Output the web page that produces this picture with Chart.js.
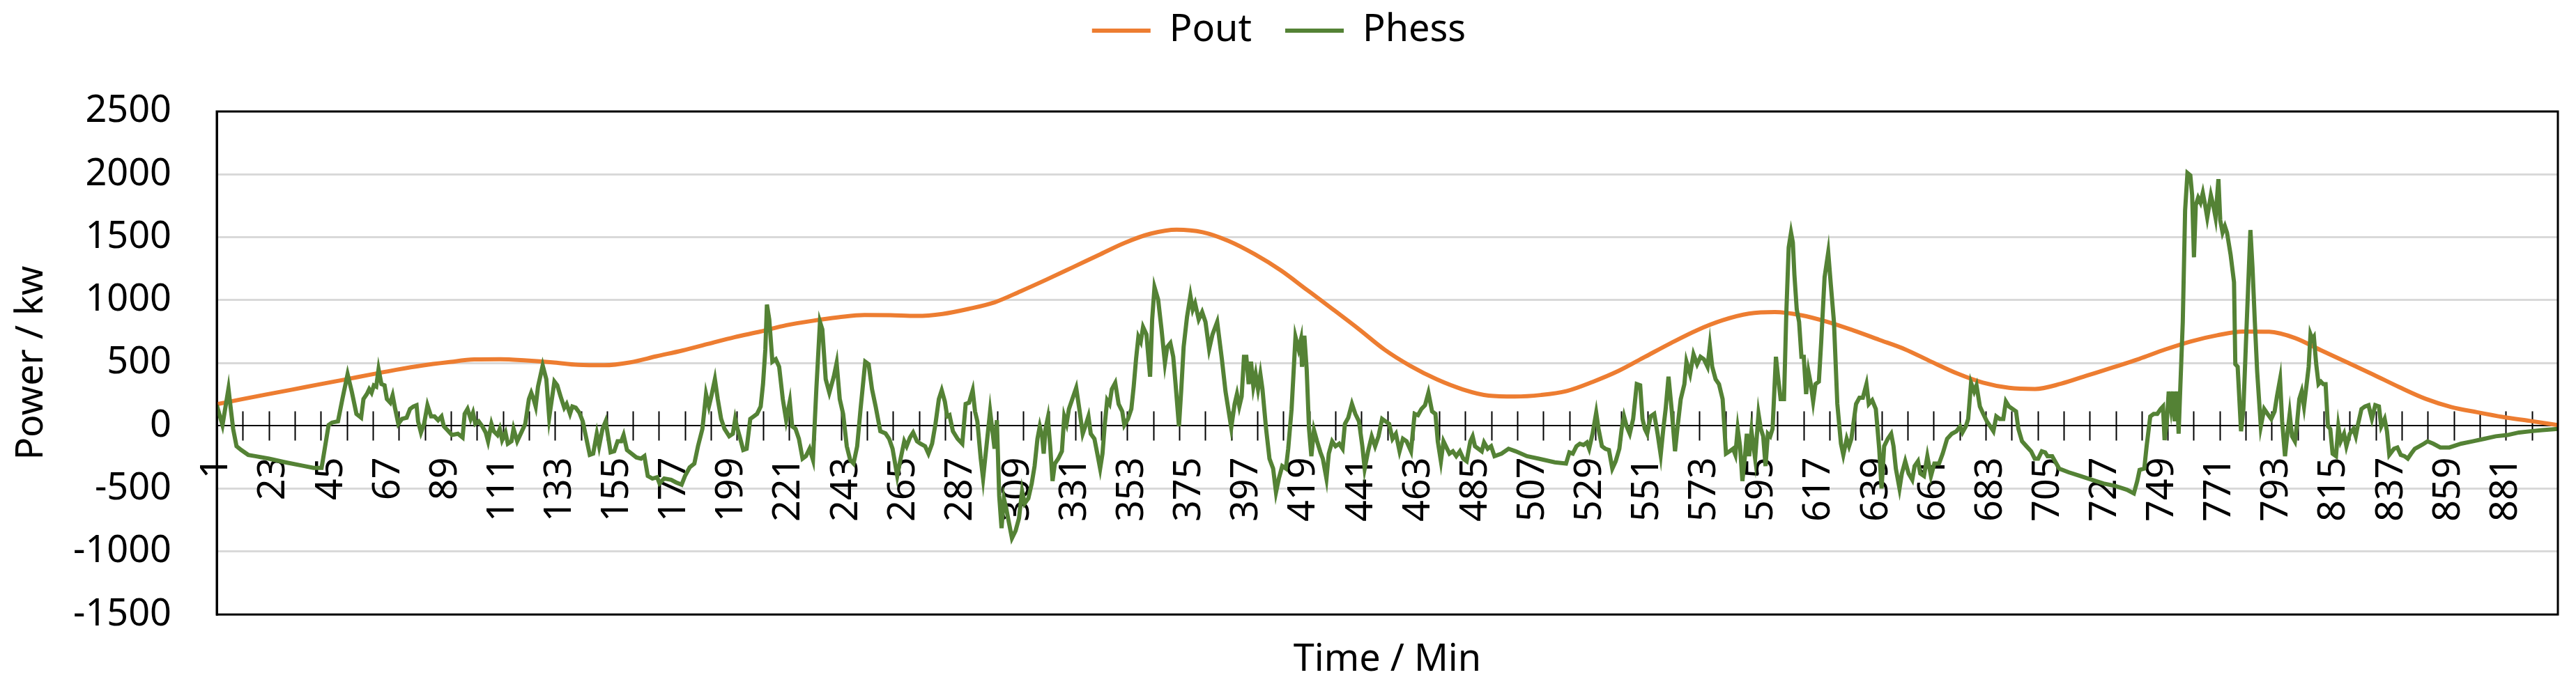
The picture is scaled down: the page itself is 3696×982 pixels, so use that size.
<!DOCTYPE html>
<html>
<head>
<meta charset="utf-8">
<script src="https://cdn.jsdelivr.net/npm/chart.js"></script>
<style>
  html, body { margin: 0; padding: 0; background: #fff; }
  canvas { display: block; }
</style>
</head>
<body>
<canvas id="grafico" width="3696" height="982"></canvas>
<script>
// etiquetas del eje de tiempo (cada 22 min)
const timeLabels = [1, 23, 45, 67, 89, 111, 133, 155, 177, 199, 221, 243, 265, 287, 309, 331, 353, 375, 397, 419,
  441, 463, 485, 507, 529, 551, 573, 595, 617, 639, 661, 683, 705, 727, 749, 771, 793, 815, 837, 859, 881];

// Pout (kw), leido cada 10 min
const poutT = [1, 10, 20, 30, 40, 50, 60, 70, 80, 90,
  100, 110, 120, 130, 140, 150, 160, 170, 180, 190,
  200, 210, 220, 230, 240, 250, 260, 270, 280, 290,
  300, 310, 320, 330, 340, 350, 360, 370, 380, 390,
  400, 410, 420, 430, 440, 450, 460, 470, 480, 490,
  500, 510, 520, 530, 540, 550, 560, 570, 580, 590,
  600, 610, 620, 630, 640, 650, 660, 670, 680, 690,
  700, 710, 720, 730, 740, 750, 760, 770, 780, 790,
  800, 810, 820, 830, 840, 850, 860, 870, 880, 890,
  901];
const poutP = [172, 209, 249, 288, 328, 367, 407, 446, 480, 506,
  528, 530, 520, 505, 485, 482, 505, 553, 599, 652,
  705, 750, 800, 835, 863, 882, 880, 874, 890, 930,
  982, 1070, 1163, 1260, 1358, 1455, 1528, 1560, 1540, 1470,
  1365, 1237, 1083, 928, 770, 605, 475, 370, 290, 240,
  233, 245, 277, 350, 438, 548, 658, 760, 840, 892,
  905, 880, 828, 760, 685, 609, 511, 417, 343, 302,
  293, 335, 400, 465, 532, 607, 672, 720, 750, 748,
  698, 600, 505, 408, 308, 216, 150, 108, 70, 40,
  6];

// Phess (kw), vertices
const phessT = [1, 3.2, 5.5, 6.4, 7.3, 8.6, 10.4, 13.1, 15.8, 21.1,
  27.4, 33.7, 38.2, 41.3, 44, 45.3, 47.6, 49.3, 51.3, 52.9,
  54.7, 56.5, 57.4, 58.7, 59.6, 60.5, 61.4, 62.3, 63.2, 64.3,
  65.5, 66.4, 67.7, 68.6, 69.5, 70.8, 72.2, 74, 75.3, 76.6,
  77.8, 78.4, 79.5, 80.7, 82, 83.4, 84.7, 86.1, 87.4, 88.3,
  90.1, 91.4, 93.7, 95.5, 96.3, 97.4, 98.6, 99.5, 100.4, 101.7,
  103.1, 104.4, 105.3, 106.6, 107.5, 108.9, 109.8, 110.7, 112, 112.9,
  114.3, 115.1, 116.5, 118.3, 119.6, 121, 121.9, 122.8, 123.6, 124.5,
  126.3, 127.7, 128.8, 130.8, 131.9, 133.2, 134.6, 135.5, 136.8, 137.7,
  139, 140.4, 141.7, 143.1, 144.4, 145.7, 147.1, 148, 149.3, 150.5,
  151.6, 152.4, 153.8, 155.1, 156.5, 157.4, 158.7, 160.5, 162.3, 164.1,
  165.4, 166.7, 168.5, 170.3, 171.2, 173, 175.7, 177.5, 179.7, 181,
  182.8, 184.6, 186, 187.7, 189.1, 190.2, 191.1, 192.5, 193.6, 194.9,
  196.2, 198, 199.4, 200.3, 201.2, 202, 203.4, 204.7, 206.1, 207.4,
  208.7, 210.1, 211, 211.9, 212.5, 213.4, 214.6, 215.9, 217.2, 218.6,
  219.9, 221.3, 222.2, 223.5, 224.8, 226.2, 227.5, 228.9, 230.2, 231.5,
  232.9, 233.8, 235.1, 236.5, 238.2, 239.3, 240.5, 241.8, 243.2, 244.5,
  245.8, 247.2, 248.5, 250.3, 251.6, 252.9, 254.3, 256.1, 258.1, 259.5,
  260.8, 262.6, 263.9, 265.3, 266.2, 267.5, 268.7, 270.2, 271.5, 273.3,
  274.6, 276, 277.3, 278.6, 279.7, 280.9, 281.8, 282.7, 284, 285.8,
  287.6, 288.9, 290.2, 291.6, 292.5, 293.4, 294.7, 295.6, 296.9, 298.3,
  299.1, 300, 300.9, 301.8, 302.7, 303.6, 304.5, 305.4, 306.7, 308.1,
  309.4, 310.6, 311.6, 313, 314.3, 315.4, 316.5, 317.4, 318.3, 318.9,
  319.6, 320.5, 321.4, 322.3, 323.2, 324.5, 325.9, 326.8, 327.7, 328.6,
  329.9, 331.4, 332.6, 333.9, 335.2, 336.1, 337, 338.4, 339.7, 340.6,
  341.5, 342.4, 343.3, 344.2, 345.1, 346.4, 347.7, 349.1, 349.9, 351.3,
  352.6, 353.5, 354.4, 355.3, 356.2, 357.1, 358.4, 359.8, 360.6, 361.5,
  362.9, 364.2, 365.5, 366.4, 367.6, 368.7, 369.6, 370.9, 371.8, 372.7,
  374, 375.3, 376.2, 377.1, 378.5, 379.8, 381.1, 382.5, 383.8, 385.6,
  387.4, 388.8, 391, 392.3, 393.2, 394.1, 395, 395.9, 396.8, 397.7,
  398.6, 399.5, 400.4, 401.3, 402.2, 403, 404.4, 405.7, 407.1, 408.2,
  409.3, 410.6, 412, 412.9, 414.2, 415.7, 416.9, 417.8, 418.2, 419.1,
  420, 420.9, 421.8, 422.8, 424, 425.3, 426.2, 427.6, 428.5, 429.8,
  431.1, 432.5, 433.8, 434.7, 436, 437.4, 438.7, 440.1, 441.4, 442.3,
  443.6, 445, 446.3, 447.6, 449, 450.3, 451.7, 453, 454.3, 455.7,
  457, 458.4, 460.1, 461.5, 462.8, 464.1, 465.5, 466.8, 468.2, 469.5,
  470.4, 471.6, 472.6, 473.5, 474.9, 476.2, 477.5, 478.9, 480.2, 481.5,
  482.9, 483.8, 484.7, 486, 487.3, 488.2, 489.6, 490.9, 492.2, 494.9,
  497.6, 500.3, 504.7, 509.2, 515.4, 519.7, 521, 522.3, 523.7, 525,
  526.4, 527.7, 528.6, 529.9, 531.3, 532.2, 533.5, 534.8, 536.2, 537.5,
  538.8, 540.2, 541.1, 542, 543, 544.2, 545.5, 546.9, 548.2, 549.1,
  550, 550.9, 552.2, 553.6, 554.9, 556.1, 557.1, 558, 559.1, 560.3,
  561.6, 562.5, 563.8, 565.2, 566, 567.4, 568.7, 570.1, 571.4, 572.7,
  574.1, 575, 575.9, 577.2, 578.5, 579.9, 581.2, 582.6, 583.9, 584.8,
  585.7, 586.6, 587.5, 588.4, 589.2, 590.1, 591, 592.4, 593.7, 594.6,
  595.5, 596.4, 597.3, 598.2, 599.1, 600.4, 601.3, 602.2, 603.5, 604.4,
  605.3, 606.2, 606.9, 607.5, 608.4, 609.3, 610.2, 611.1, 612, 612.9,
  613.8, 614.7, 615.6, 616.9, 617.8, 619.1, 620.5, 621.5, 622.7, 624,
  625.4, 626.3, 627.6, 628.5, 629.4, 630.3, 631.2, 632.5, 633.8, 635.2,
  636.1, 637.4, 638.8, 640.1, 641, 642, 643.4, 644.7, 645.6, 646.5,
  647.9, 648.8, 650.1, 651.4, 652.8, 653.7, 655, 655.9, 657.3, 658.6,
  660, 661.3, 663.1, 664.5, 666.2, 668, 669.8, 671.2, 672.1, 673.4,
  674.3, 675.4, 676.6, 677.5, 678.8, 680.1, 681.5, 682.8, 684, 685.1,
  686.4, 687.8, 688.8, 690, 691.4, 692.7, 693.6, 695, 696.7, 698.5,
  699.9, 701.2, 702.6, 703.9, 704.8, 706.6, 709.3, 712.9, 717.4, 721.9,
  726.3, 730.8, 735.3, 738, 739.3, 740.2, 742, 742.9, 744.3, 745.6,
  747, 748.3, 749.2, 749.8, 750.6, 751.4, 752.3, 753.1, 753.7, 754.6,
  755.2, 755.9, 756.8, 757.7, 758.6, 759.7, 760.4, 761.1, 761.8, 762.7,
  763.6, 764.5, 765.4, 766.2, 767.6, 768.5, 769.4, 770.5, 771.2, 772.1,
  773, 773.8, 775.2, 776.5, 777, 777.9, 779.2, 780.1, 781.4, 782.8,
  783.6, 784.5, 785.4, 786.8, 788.1, 789.4, 790.8, 792.1, 793, 794.2,
  795, 796.1, 797, 797.9, 798.8, 799.9, 800.7, 801.6, 802.5, 803.4,
  804.3, 805.2, 805.9, 806.6, 807.2, 808.1, 809, 809.9, 810.8, 811.7,
  812.6, 813.5, 814.4, 815.7, 816.6, 817.5, 818.8, 819.7, 821, 822.4,
  823.3, 824.2, 825.5, 826.8, 828.2, 829.5, 830.8, 832.2, 833.1, 834.4,
  835.3, 836.2, 838, 839.3, 840.6, 842, 843.3, 844.6, 846, 847.8,
  849.5, 850.9, 853.1, 855.8, 859.3, 863.8, 868.2, 872.7, 877.1, 881.6,
  886, 890.5, 895, 901];
const phessP = [165, 5, 296, 134, -24, -162, -192, -231, -241, -261,
  -290, -316, -334, -334, 6, 26, 36, 213, 411, 273,
  95, 65, 213, 253, 292, 263, 322, 312, 450, 332,
  322, 213, 184, 243, 144, 16, 55, 65, 134, 154,
  164, 36, -53, 16, 164, 75, 75, 45, 75, -4,
  -43, -73, -63, -93, 95, 134, 55, 105, 16, 36,
  -4, -53, -123, 16, -43, -73, -24, -113, -53, -142,
  -123, -24, -123, -43, 16, 213, 263, 213, 154, 312,
  480, 371, 65, 352, 322, 233, 144, 174, 95, 154,
  144, 105, 36, -103, -231, -221, -63, -162, -24, 36,
  -103, -211, -202, -123, -123, -73, -192, -221, -251, -261,
  -241, -399, -419, -409, -458, -419, -429, -449, -468, -399,
  -330, -300, -162, -24, 253, 154, 233, 371, 213, 55,
  -24, -83, -63, 55, -24, -83, -192, -182, 55, 75,
  95, 154, 332, 609, 964, 846, 510, 530, 470, 213,
  45, 194, -4, -24, -103, -261, -241, -182, -271, 292,
  826, 767, 371, 263, 391, 500, 213, 95, -162, -271,
  -300, -162, 134, 510, 490, 292, 154, -43, -60, -103,
  -182, -399, -261, -123, -162, -93, -53, -123, -142, -162,
  -221, -142, 16, 213, 283, 194, 75, 85, -43, -103,
  -142, 174, 184, 283, 115, 36, -261, -419, -162, 115,
  -24, -182, 45, -557, -814, -577, -656, -755, -893, -834,
  -735, -518, -617, -577, -458, -320, -103, -4, -83, -221,
  -24, 65, -162, -439, -300, -261, -202, 75, 16, 134,
  213, 302, 134, -63, 16, 75, -63, -103, -241, -340,
  -221, 16, 204, 174, 292, 342, 174, 115, 6, 55,
  134, 312, 530, 707, 668, 786, 727, 391, 846, 1103,
  1004, 767, 500, 628, 658, 549, 332, -4, 292, 628,
  866, 1034, 925, 974, 846, 905, 826, 609, 727, 826,
  530, 273, -14, 174, 253, 154, 233, 549, 549, 332,
  510, 312, 411, 292, 411, 292, -24, -261, -340, -528,
  -419, -320, -340, -182, 134, 707, 609, 688, 470, 717,
  450, -24, -241, -34, -123, -211, -261, -419, -221, -123,
  -162, -142, -182, 16, 65, 174, 95, 36, -162, -340,
  -202, -83, -162, -83, 55, 36, 16, -103, -63, -202,
  -103, -123, -202, 95, 85, 134, 164, 263, 115, 95,
  -123, -281, -123, -162, -221, -202, -241, -202, -261, -281,
  -123, -83, -162, -182, -202, -132, -182, -162, -241, -221,
  -182, -202, -241, -261, -290, -300, -211, -221, -162, -142,
  -152, -132, -182, -63, 105, -24, -162, -182, -192, -340,
  -281, -182, -24, 75, -4, -63, 55, 332, 322, 55,
  -24, -63, 75, 95, -63, -231, -24, 134, 391, 134,
  -202, -24, 213, 332, 510, 411, 569, 490, 549, 530,
  470, 638, 470, 371, 332, 213, -221, -202, -182, -231,
  -24, -162, -439, -261, -63, -241, -43, -261, 95, -24,
  -83, -320, -63, -83, -24, 549, 371, 213, 213, 905,
  1419, 1537, 1458, 1201, 925, 826, 549, 549, 253, 431,
  332, 194, 332, 352, 668, 1182, 1379, 1122, 826, 174,
  -142, -231, -103, -162, -103, 36, 174, 223, 223, 332,
  174, 204, 134, -182, -498, -162, -103, -63, -162, -340,
  -498, -379, -281, -379, -429, -320, -281, -379, -399, -241,
  -399, -300, -300, -221, -103, -63, -43, -4, -53, -4,
  55, 342, 273, 322, 154, 95, 36, -4, -43, 75,
  55, 55, 194, 154, 134, 115, -24, -123, -162, -202,
  -261, -261, -202, -211, -241, -241, -340, -369, -399, -429,
  -458, -478, -508, -537, -439, -350, -340, -162, 75, 95,
  95, 134, 154, -113, 16, 273, 134, 273, 36, 273,
  -63, 332, 826, 1715, 2011, 1992, 1834, 1340, 1755, 1814,
  1775, 1853, 1755, 1656, 1834, 1755, 1656, 1962, 1636, 1537,
  1587, 1537, 1359, 1142, 490, 470, -43, 134, 826, 1557,
  1261, 826, 431, -4, 134, 95, 55, 115, 233, 371,
  36, -241, -63, 95, -83, -123, 16, 213, 273, 154,
  312, 470, 727, 688, 707, 490, 332, 352, 332, 332,
  -4, -24, -221, -241, -4, -123, -63, -162, -63, -24,
  -83, 16, 134, 154, 164, 55, 164, 154, -4, 55,
  -43, -231, -182, -172, -231, -241, -261, -221, -182, -162,
  -142, -123, -142, -172, -172, -142, -123, -103, -83, -73,
  -53, -43, -34, -24];

const tickEvery = 10;   // marcas del eje cada 10 min
const fuente = 54;

Chart.defaults.font.family = "'Noto Sans', 'Open Sans', sans-serif";
Chart.defaults.color = '#000';

const marco = {
  id: 'marco',
  beforeLayout(chart) {
    const lg = chart.legend;
    if (lg && !lg._altoFijo) {
      const fit = lg.fit;
      lg.fit = function () { fit.call(this); this.height = 191; };
      lg._altoFijo = true;
    }
  },
  beforeDatasetsDraw(chart) {
    const { ctx, scales: { x, y } } = chart;
    const y0 = y.getPixelForValue(0);
    ctx.save();
    ctx.strokeStyle = '#000';
    ctx.lineWidth = 2;
    ctx.beginPath();
    for (let m = 1; m < 901; m += tickEvery) {
      const px = Math.round(x.getPixelForValue(m)) + 0.5;
      ctx.moveTo(px, y0 - 21);
      ctx.lineTo(px, y0 + 21);
    }
    ctx.stroke();
    ctx.restore();
  },
  afterDraw(chart) {
    const { ctx, chartArea: a } = chart;
    ctx.save();
    ctx.strokeStyle = '#000';
    ctx.lineWidth = 3;
    ctx.strokeRect(a.left, a.top, a.right - a.left, a.bottom - a.top);
    ctx.restore();
  }
};

new Chart(document.getElementById('grafico'), {
  type: 'line',
  data: {
    datasets: [{
      label: 'Pout',
      data: poutT.map((t, i) => ({ x: t, y: poutP[i] })),
      borderColor: '#ED7D31',
      backgroundColor: '#ED7D31',
      borderWidth: 6,
      pointRadius: 0,
      cubicInterpolationMode: 'monotone',
      xAxisID: 'x',
      order: 1
    }, {
      label: 'Phess',
      data: phessT.map((t, i) => ({ x: t, y: phessP[i] })),
      borderColor: '#548235',
      backgroundColor: '#548235',
      borderWidth: 6,
      pointRadius: 0,
      tension: 0,
      xAxisID: 'x',
      order: 0
    }]
  },
  options: {
    responsive: false,
    devicePixelRatio: 1,
    animation: false,
    layout: { padding: { top: -31, left: 0, right: 26, bottom: 0 } },
    plugins: {
      legend: {
        position: 'top',
        labels: {
          usePointStyle: true,
          pointStyle: 'line',
          pointStyleWidth: 84,
          padding: 48,
          font: { size: fuente },
          sort: (a, b) => a.datasetIndex - b.datasetIndex
        }
      },
      tooltip: { enabled: false }
    },
    scales: {
      x: {
        type: 'linear',
        position: { y: 0 },
        min: 1,
        max: 901,
        afterBuildTicks: s => { s.ticks = timeLabels.map(v => ({ value: v })); },
        afterFit: s => { s.paddingLeft = 0; s.paddingRight = 0; },
        grid: { drawOnChartArea: false, drawTicks: false },
        border: { display: true, color: '#000', width: 2 },
        ticks: {
          autoSkip: false,
          minRotation: 90,
          maxRotation: 90,
          padding: 45,
          font: { size: fuente },
          callback: v => String(v)
        }
      },
      x2: {
        type: 'linear',
        axis: 'x',
        position: 'bottom',
        min: 1,
        max: 901,
        grid: { display: false, drawTicks: false },
        border: { display: false },
        ticks: { display: false },
        title: {
          display: true,
          text: 'Time / Min',
          font: { size: fuente },
          padding: { top: 33, bottom: 2 }
        }
      },
      y: {
        min: -1500,
        max: 2500,
        afterFit: s => { s.width = 311; },
        grid: {
          color: c => (c.tick && c.tick.value === 0 ? 'rgba(0,0,0,0)' : '#d9d9d9'),
          lineWidth: 3,
          drawTicks: false
        },
        border: { color: '#000', width: 3 },
        ticks: {
          stepSize: 500,
          padding: 65,
          font: { size: fuente },
          callback: v => String(v)
        },
        title: {
          display: true,
          text: 'Power / kw',
          font: { size: fuente },
          padding: { top: 13, bottom: 0 }
        }
      }
    }
  },
  plugins: [marco]
});
</script>
</body>
</html>
